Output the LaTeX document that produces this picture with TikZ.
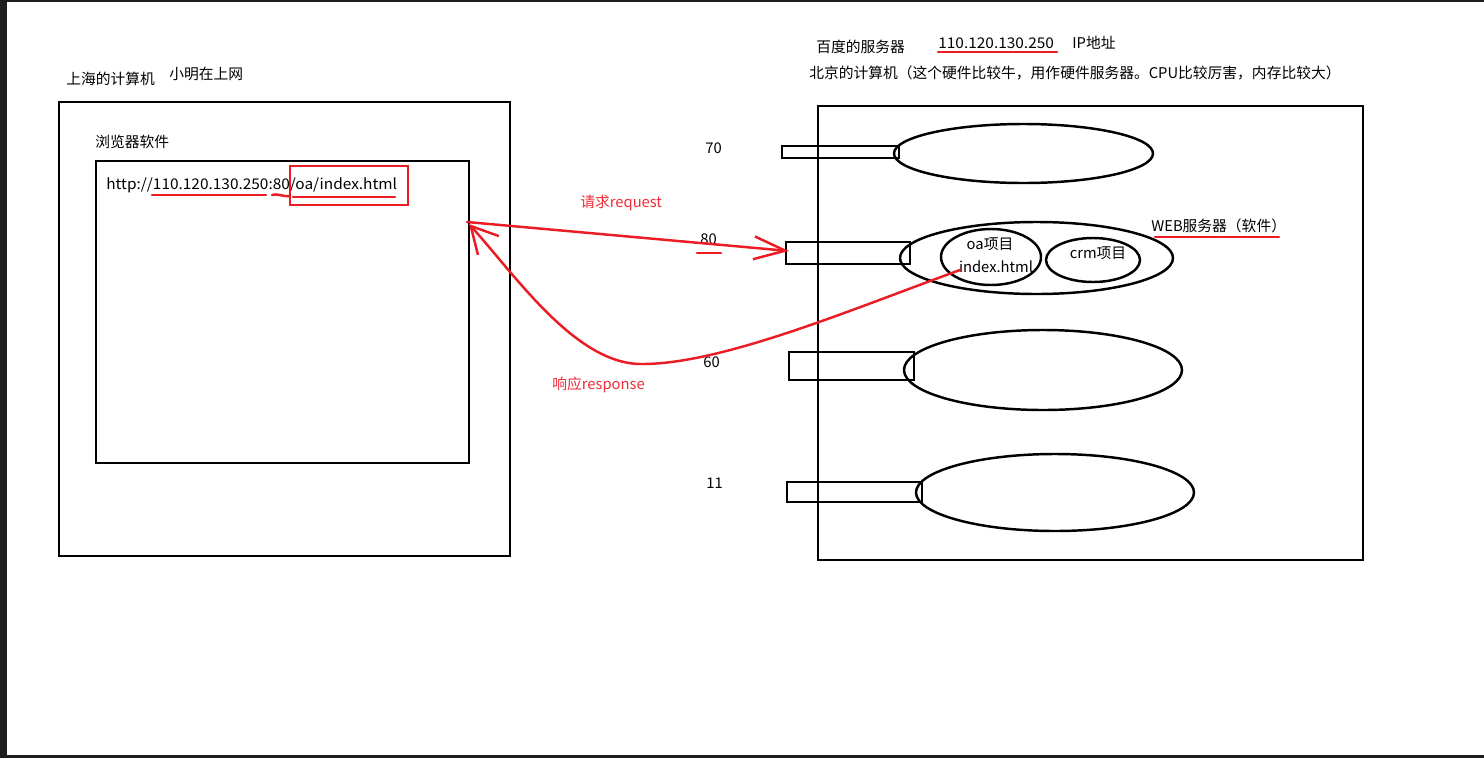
\documentclass[tikz,border=0pt]{standalone}
\usepackage{fontspec}
\setmainfont{Noto Sans CJK SC}
\newfontfamily\latw[FakeStretch=1.045]{Noto Sans CJK SC}
\usetikzlibrary{shapes.geometric,arrows.meta}
\definecolor{pred}{RGB}{236,28,36}
\definecolor{tred}{RGB}{238,45,55}
\definecolor{frame}{RGB}{30,30,30}
\begin{document}
\begin{tikzpicture}[x=0.02cm,y=-0.02cm,
  box/.style={draw=black,line width=1.6pt,inner sep=0pt},
  port/.style={draw=black,line width=1.4pt,inner sep=0pt},
  oval/.style={draw=black,line width=1.4pt,ellipse,inner sep=0pt},
  lbl/.style={anchor=west,inner sep=0pt,font=\fontsize{8.4}{10}\selectfont},
  wlbl/.style={anchor=west,inner sep=0pt,font=\latw\fontsize{8.4}{10}\selectfont},
  rlbl/.style={lbl,text=tred},
  ctr/.style={inner sep=0pt,font=\fontsize{8.4}{10}\selectfont},
  redline/.style={draw=pred,line width=1.4pt,line cap=round},
]
\useasboundingbox (0,0) rectangle (1484,758);
\fill[white] (0,0) rectangle (1484,758);
% dark window frame
\fill[frame] (0,0) rectangle (7,758);
\fill[frame] (0,755) rectangle (1484,758);
\fill[frame] (0,0) rectangle (1484,2);

% left computer
\node[box,minimum width=451*0.02cm,minimum height=454*0.02cm] (pc) at (284.5,329) {};
\node[box,minimum width=373*0.02cm,minimum height=302*0.02cm] (browser) at (282.5,312) {};
\node[lbl] (sh) at (66,79) {上海的计算机};
\node[lbl] (xm) at (169,74) {小明在上网};
\node[lbl] (bs) at (95,142) {浏览器软件};
\node[wlbl] (url) at (106,185) {http://110.120.130.250:80/oa/index.html};
\draw[redline] (152,195) -- (266,195);
\draw[redline] (272,195) .. controls (278,193) and (282,197) .. (290,196);
\draw[redline] (293,197) -- (395,197);
\node[draw=pred,line width=1.4pt,inner sep=0pt,minimum width=118*0.02cm,minimum height=39*0.02cm] (res) at (349,185.5) {};

% right server
\node[lbl] (bd) at (816,47) {百度的服务器};
\node[wlbl] (ip) at (938,43) {110.120.130.250};
\draw[redline] (938,52) -- (1057,52);
\node[lbl] (ipl) at (1072,43) {IP地址};
\node[lbl] (bj) at (809,73) {北京的计算机（这个硬件比较牛，用作硬件服务器。CPU比较厉害，内存比较大）};
\node[box,minimum width=545*0.02cm,minimum height=454*0.02cm] (srv) at (1090.5,333) {};

% port 70
\node[oval,minimum width=259*0.02cm,minimum height=59*0.02cm] (e70) at (1023.5,153.5) {};
\node[port,minimum width=117*0.02cm,minimum height=12*0.02cm] (p70) at (840.5,152) {};
\node[lbl] (n70) at (705,148) {70};

% port 80
\node[oval,minimum width=273*0.02cm,minimum height=72*0.02cm] (e80) at (1036.5,258) {};
\node[port,minimum width=124*0.02cm,minimum height=22*0.02cm] (p80) at (848,253) {};
\node[lbl] (n80) at (700,239) {80};
\draw[redline] (697,253) -- (721,253);
\node[oval,minimum width=100*0.02cm,minimum height=56*0.02cm] (oa) at (991,257) {};
\node[oval,minimum width=94*0.02cm,minimum height=44*0.02cm] (crm) at (1093,260) {};
\node[ctr] (oat) at (990,244) {oa项目};
\node[ctr] (idx) at (996,267) {index.html};
\node[ctr] (crmt) at (1098,253) {crm项目};
\node[lbl] (web) at (1151,226) {WEB服务器（软件）};
\draw[redline] (1155,237) -- (1279,237);

% port 60
\node[oval,minimum width=278*0.02cm,minimum height=80*0.02cm] (e60) at (1043,370) {};
\node[port,minimum width=125*0.02cm,minimum height=28*0.02cm] (p60) at (851.5,366) {};
\node[lbl] (n60) at (703,362) {60};

% port 11
\node[oval,minimum width=278*0.02cm,minimum height=77*0.02cm] (e11) at (1055,492.5) {};
\node[port,minimum width=135*0.02cm,minimum height=20*0.02cm] (p11) at (854.5,492) {};
\node[lbl] (n11) at (706,483) {11};

% request / response
\coordinate (reqs) at (467,222);
\coordinate (reqe) at (789,251);
\draw[redline,-{Straight Barb[length=18pt,width=13pt,line width=1.4pt]}] (reqs) -- (reqe);
\node[rlbl] (reqt) at (580,203) {请求request};

\coordinate (resps) at (960,270);
\coordinate (respe) at (469,224);
\draw[redline,-{Straight Barb[length=15pt,width=16pt,line width=1.4pt]}] (resps) .. controls (850,310) and (720,365) .. (640,364) .. controls (575,363) and (515,275) .. (respe);
\node[rlbl] (respt) at (552,385) {响应response};
\end{tikzpicture}
\end{document}
